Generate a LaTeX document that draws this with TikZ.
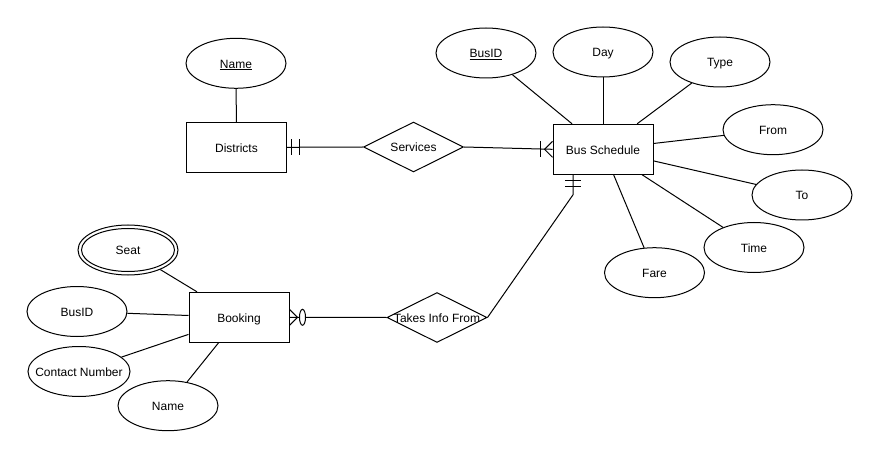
\documentclass[tikz,border=0pt]{standalone}
\usepackage{fontspec}
\setmainfont{Liberation Sans}
\usetikzlibrary{shapes.geometric,calc}
\begin{document}
\begin{tikzpicture}[x=1pt,y=-1pt,line width=1pt,
  every node/.style={font=\fontsize{12}{14}\selectfont,inner sep=0pt,
    text height=12pt,text depth=2.4pt},
  entity/.style={draw,rectangle,minimum width=100pt,minimum height=50pt},
  attr/.style={draw,ellipse,minimum width=100pt,minimum height=50pt},
  wideattr/.style={attr,minimum width=102pt,label={center:#1}},
  rel/.style={draw,diamond,minimum width=100pt,minimum height=50pt,label={center:#1}}]
\useasboundingbox[fill=white] (0,0) rectangle (878,457);

% entities
\node[entity] (dist) at (236.5,147.3) {Districts};
\node[entity] (bus)  at (603,149.3) {Bus Schedule};
\node[entity] (book) at (239,317.3) {Booking};

% relationships
\node[rel=Services] (serv) at (413.5,147) {};
\node[rel=Takes Info From] (takes) at (437,317.5) {};

% attributes of Districts
\node[attr] (dname) at (236,63.3) {\underline{Name}};

% attributes of Bus Schedule
\node[attr] (busid) at (486,53) {\underline{BusID}};
\node[attr] (day)   at (603,52) {Day};
\node[attr] (type)  at (720,62) {Type};
\node[attr] (from)  at (773,129.7) {From};
\node[attr] (to)    at (802,195) {To};
\node[attr] (time)  at (754,247.5) {Time};
\node[attr] (fare)  at (654.5,272.7) {Fare};

% attributes of Booking
\node[attr] (seat)    at (128,250) {Seat};
\draw (seat.center) ellipse [x radius=46.5pt,y radius=21.5pt];
\node[attr] (bbusid)  at (77,311.5) {BusID};
\node[wideattr=Contact Number] (contact) at (79,371.5) {};
\node[attr] (bname)   at (168,405.7) {Name};

% attribute links
\draw (dname) -- (dist);
\foreach \a in {busid,day,type,from,to,time,fare} \draw (\a) -- (bus);
\foreach \a in {seat,bbusid,contact,bname} \draw (\a) -- (book);

% relationship links
\draw (dist.east) -- (serv.west);
\draw (serv.east) -- (bus.west);
\draw (book.east) -- (takes.west);
\coordinate (busfoot) at ($(bus.south)+(-30,0)$);
\coordinate (busbend) at ($(busfoot)+(0,20)$);
\draw (takes.east) -- (busbend) -- (busfoot);

% cardinality: exactly one at Districts
\draw ($(dist.east)+(4,-8)$) -- ($(dist.east)+(4,8)$);
\draw ($(dist.east)+(12,-8)$) -- ($(dist.east)+(12,8)$);
% one or many at Bus Schedule (Services)
\draw ($(bus.west)+(-12,-8)$) -- ($(bus.west)+(-12,8)$);
\draw ($(bus.west)+(0,-8)$) -- ($(bus.west)+(-8,0)$) -- ($(bus.west)+(0,8)$);
% exactly one at Bus Schedule (Takes Info From)
\draw ($(busfoot)+(-8,6)$) -- ($(busfoot)+(8,6)$);
\draw ($(busfoot)+(-8,12)$) -- ($(busfoot)+(8,12)$);
% zero or many at Booking
\draw ($(book.east)+(0,-8)$) -- ($(book.east)+(8,0)$) -- ($(book.east)+(0,8)$);
\draw[fill=white] ($(book.east)+(13,0)$) ellipse [x radius=3pt,y radius=8pt];
\end{tikzpicture}
\end{document}
